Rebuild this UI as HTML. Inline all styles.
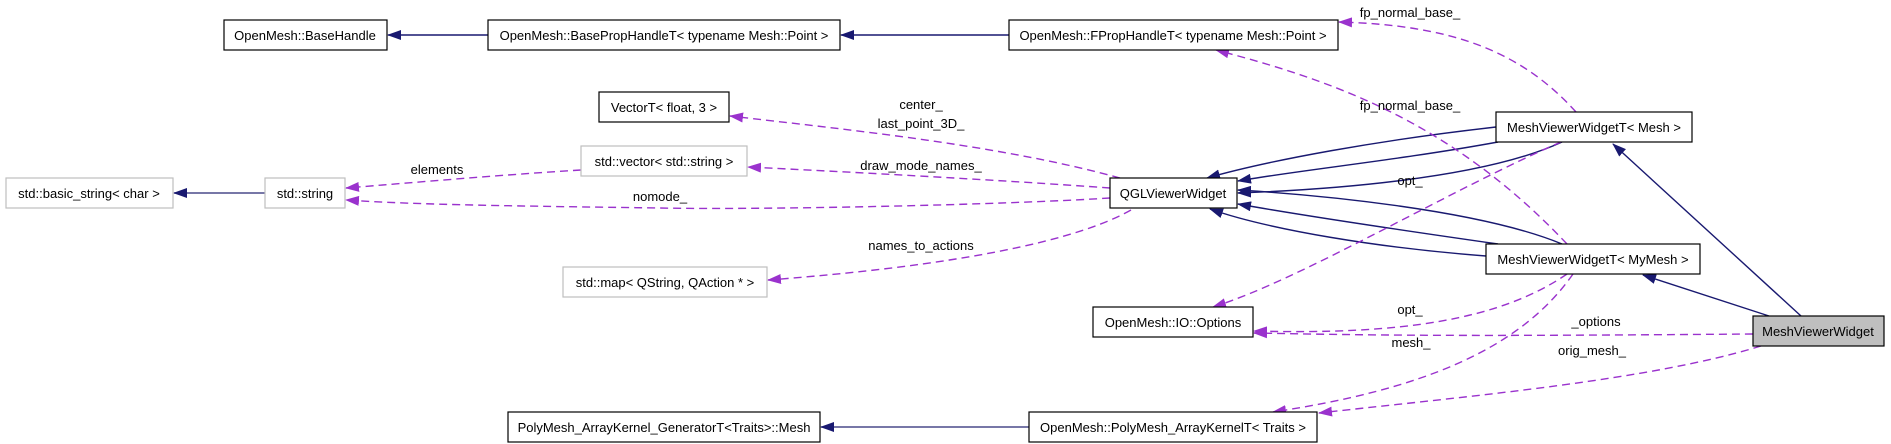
<!DOCTYPE html>
<html><head><meta charset="utf-8"><style>
html,body{margin:0;padding:0;background:#fff;}
svg{display:block;}
text{font-family:"Liberation Sans",Arial,sans-serif;font-size:13px;fill:#000;}
</style></head><body>
<svg width="1891" height="444" viewBox="0 0 1891 444" xmlns="http://www.w3.org/2000/svg">
<defs>
<marker id="an" markerWidth="14" markerHeight="10" refX="13" refY="5" orient="auto" markerUnits="userSpaceOnUse"><path d="M0,0 L14,5 L0,10 z" fill="#191970"/></marker>
<marker id="ap" markerWidth="14" markerHeight="10" refX="13" refY="5" orient="auto" markerUnits="userSpaceOnUse"><path d="M0,0 L14,5 L0,10 z" fill="#9a32cd"/></marker>
</defs>
<g fill="none" stroke="#191970" stroke-width="1.4" marker-end="url(#an)">
<path d="M488,35 L388,35"/>
<path d="M1009,35 L841,35"/>
<path d="M265,193 L174,193" stroke="#4a4a8a"/>
<path d="M1029,427 L821,427" stroke="#4a4a8a"/>
<path d="M1801,316 L1613,144"/>
<path d="M1769,316 L1643,275"/>
<path d="M1496,127 C1380,140 1270,160 1207,178"/>
<path d="M1498,142 C1400,160 1300,170 1238,181"/>
<path d="M1562,142 C1480,180 1320,190 1238,193"/>
<path d="M1562,244 C1480,210 1320,195 1238,190"/>
<path d="M1498,244 C1400,230 1300,215 1238,204"/>
<path d="M1486,256 C1380,248 1270,230 1210,209"/>
</g>
<g fill="none" stroke="#9a32cd" stroke-width="1.4" stroke-dasharray="8,5" marker-end="url(#ap)">
<path d="M1120,178 C1000,145 850,130 730,116"/>
<path d="M1110,188 C1000,180 850,172 748,167"/>
<path d="M1110,198 C1000,205 760,210 660,208 C520,206 420,205 346,200"/>
<path d="M581,170 C500,175 420,182 346,188"/>
<path d="M1131,210 C1060,250 900,270 768,280"/>
<path d="M1576,112 C1520,50 1450,25 1339,22"/>
<path d="M1567,244 C1450,120 1330,80 1216,50"/>
<path d="M1561,142 C1450,190 1300,280 1213,307"/>
<path d="M1567,274 C1500,320 1400,335 1254,331"/>
<path d="M1753,334 C1500,336 1400,336 1254,333"/>
<path d="M1573,274 C1520,350 1420,390 1273,412"/>
<path d="M1761,346 C1650,380 1480,395 1319,413"/>
</g>
<g stroke-width="1.2">
<rect x="224" y="20" width="163" height="30" fill="#fff" stroke="#000"/>
<rect x="488" y="20" width="352" height="30" fill="#fff" stroke="#000"/>
<rect x="599" y="92" width="130" height="30" fill="#fff" stroke="#000"/>
<rect x="581" y="146" width="166" height="30" fill="#fff" stroke="#bfbfbf"/>
<rect x="6" y="178" width="167" height="30" fill="#fff" stroke="#bfbfbf"/>
<rect x="265" y="178" width="80" height="30" fill="#fff" stroke="#bfbfbf"/>
<rect x="563" y="267" width="204" height="30" fill="#fff" stroke="#bfbfbf"/>
<rect x="508" y="412" width="312" height="30" fill="#fff" stroke="#000"/>
<rect x="1009" y="20" width="329" height="30" fill="#fff" stroke="#000"/>
<rect x="1110" y="178" width="127" height="30" fill="#fff" stroke="#000"/>
<rect x="1496" y="112" width="196" height="30" fill="#fff" stroke="#000"/>
<rect x="1486" y="244" width="214" height="30" fill="#fff" stroke="#000"/>
<rect x="1093" y="307" width="160" height="30" fill="#fff" stroke="#000"/>
<rect x="1753" y="316" width="131" height="30" fill="#bfbfbf" stroke="#000"/>
<rect x="1029" y="412" width="288" height="30" fill="#fff" stroke="#000"/>
</g>
<g text-anchor="middle">
<text x="305" y="40">OpenMesh::BaseHandle</text>
<text x="664" y="40">OpenMesh::BasePropHandleT&lt; typename Mesh::Point &gt;</text>
<text x="664" y="112">VectorT&lt; float, 3 &gt;</text>
<text x="664" y="166">std::vector&lt; std::string &gt;</text>
<text x="89" y="198">std::basic_string&lt; char &gt;</text>
<text x="305" y="198">std::string</text>
<text x="665" y="287">std::map&lt; QString, QAction * &gt;</text>
<text x="664" y="432">PolyMesh_ArrayKernel_GeneratorT&lt;Traits&gt;::Mesh</text>
<text x="1173" y="40">OpenMesh::FPropHandleT&lt; typename Mesh::Point &gt;</text>
<text x="1173" y="198">QGLViewerWidget</text>
<text x="1594" y="132">MeshViewerWidgetT&lt; Mesh &gt;</text>
<text x="1593" y="264">MeshViewerWidgetT&lt; MyMesh &gt;</text>
<text x="1173" y="327">OpenMesh::IO::Options</text>
<text x="1818" y="336">MeshViewerWidget</text>
<text x="1173" y="432">OpenMesh::PolyMesh_ArrayKernelT&lt; Traits &gt;</text>
<text x="921" y="109">center_</text>
<text x="921" y="128">last_point_3D_</text>
<text x="921" y="170">draw_mode_names_</text>
<text x="660" y="201">nomode_</text>
<text x="437" y="174">elements</text>
<text x="921" y="250">names_to_actions</text>
<text x="1410" y="17">fp_normal_base_</text>
<text x="1410" y="110">fp_normal_base_</text>
<text x="1410" y="185">opt_</text>
<text x="1410" y="314">opt_</text>
<text x="1596" y="326">_options</text>
<text x="1411" y="347">mesh_</text>
<text x="1592" y="355">orig_mesh_</text>
</g>
</svg>
</body></html>
